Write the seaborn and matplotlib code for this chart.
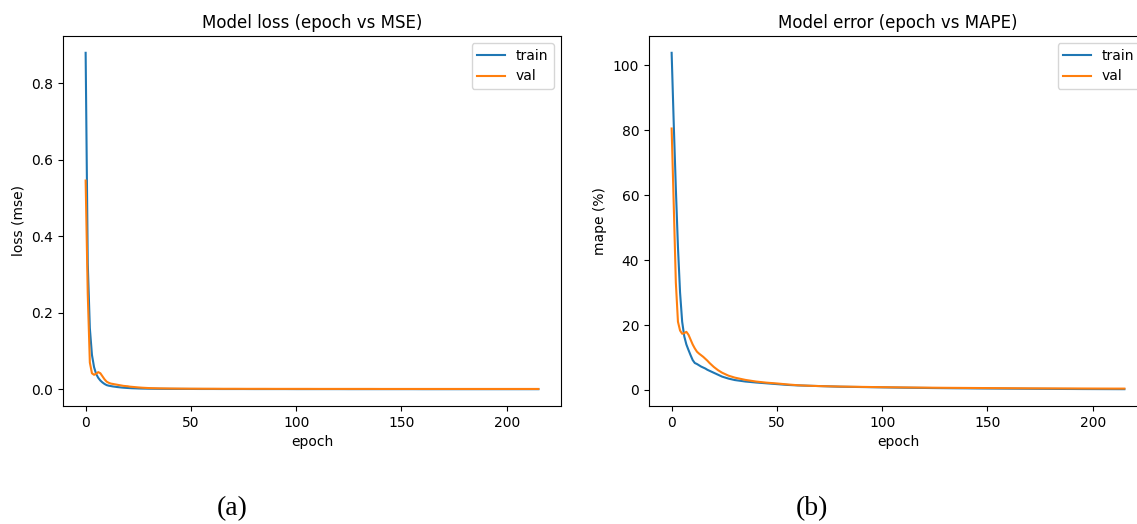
import matplotlib
matplotlib.use("Agg")
import matplotlib.pyplot as plt
import seaborn as sns
import pandas as pd

# ---- data ----
epochs = list(range(0, 31)) + list(range(35, 216, 5))

train_loss = [0.880, 0.330, 0.160, 0.090, 0.058, 0.040, 0.030, 0.023, 0.018, 0.014,
              0.011, 0.0095, 0.0085, 0.0075, 0.0068, 0.0060, 0.0054, 0.0048, 0.0043, 0.0039,
              0.0035, 0.0032, 0.0029, 0.0027, 0.0025, 0.0023, 0.0021, 0.0020, 0.0019, 0.0018,
              0.0017,
              0.0014, 0.0012, 0.0011, 0.0010, 0.0009, 0.0009, 0.0008, 0.0008, 0.0008, 0.0007,
              0.0007, 0.0007, 0.0007, 0.0006, 0.0006, 0.0006, 0.0006, 0.0006, 0.0005, 0.0005,
              0.0005, 0.0005, 0.0005, 0.0005, 0.0005, 0.0004, 0.0004, 0.0004, 0.0004, 0.0004,
              0.0004, 0.0004, 0.0004, 0.0004, 0.0004, 0.0004, 0.0004]

val_loss = [0.546, 0.250, 0.070, 0.042, 0.038, 0.041, 0.045, 0.042, 0.034, 0.026,
            0.020, 0.017, 0.015, 0.014, 0.013, 0.012, 0.011, 0.010, 0.009, 0.0085,
            0.0080, 0.0070, 0.0065, 0.0060, 0.0055, 0.0050, 0.0046, 0.0042, 0.0039, 0.0036,
            0.0033,
            0.0026, 0.0022, 0.0019, 0.0017, 0.0016, 0.0015, 0.0014, 0.0014, 0.0013, 0.0013,
            0.0013, 0.0012, 0.0012, 0.0012, 0.0012, 0.0011, 0.0011, 0.0011, 0.0011, 0.0011,
            0.0011, 0.0010, 0.0010, 0.0010, 0.0010, 0.0010, 0.0010, 0.0010, 0.0010, 0.0010,
            0.0010, 0.0010, 0.0010, 0.0010, 0.0010, 0.0010, 0.0010]

train_mape = [103.8, 82.0, 62.0, 44.0, 30.0, 21.0, 16.5, 14.0, 12.3, 10.7,
              9.2, 8.3, 8.0, 7.6, 7.2, 6.9, 6.6, 6.2, 5.9, 5.6,
              5.3, 5.0, 4.7, 4.4, 4.1, 3.9, 3.7, 3.5, 3.35, 3.2,
              3.05,
              2.6, 2.3, 2.05, 1.8, 1.55, 1.4, 1.3, 1.2, 1.1, 1.0,
              0.95, 0.9, 0.85, 0.8, 0.75, 0.7, 0.66, 0.62, 0.58, 0.55,
              0.52, 0.5, 0.47, 0.45, 0.43, 0.41, 0.39, 0.37, 0.35, 0.33,
              0.31, 0.3, 0.28, 0.27, 0.26, 0.25, 0.24]

val_mape = [80.5, 57.0, 33.0, 21.0, 18.3, 17.3, 17.5, 17.9, 17.0, 15.5,
            14.0, 12.8, 11.8, 11.2, 10.7, 10.2, 9.6, 9.0, 8.3, 7.7,
            7.1, 6.6, 6.1, 5.7, 5.3, 5.0, 4.7, 4.4, 4.2, 4.0,
            3.8,
            3.1, 2.6, 2.25, 2.0, 1.7, 1.45, 1.3, 1.2, 1.12, 1.05,
            1.0, 0.95, 0.9, 0.86, 0.82, 0.78, 0.75, 0.72, 0.69, 0.66,
            0.64, 0.62, 0.6, 0.58, 0.56, 0.54, 0.52, 0.5, 0.49, 0.48,
            0.47, 0.46, 0.45, 0.44, 0.43, 0.42, 0.42]

series_labels = ["train", "val"]
titles = ["Model loss (epoch vs MSE)", "Model error (epoch vs MAPE)"]
ylabels = ["loss (mse)", "mape (%)"]
panel_tags = ["(a)", "(b)"]

colors = ["#1f77b4", "#ff7f0e"]

fig = plt.figure(figsize=(11.37, 5.24), dpi=100)
ax1 = fig.add_axes([63 / 1137, 118 / 524, 498 / 1137, 370 / 524])
ax2 = fig.add_axes([649 / 1137, 118 / 524, 498 / 1137, 370 / 524])

for ax, (tr, va), title, ylab in zip(
        [ax1, ax2], [(train_loss, val_loss), (train_mape, val_mape)], titles, ylabels):
    df = pd.DataFrame({"epoch": epochs, "train": tr, "val": va})
    for lab, col in zip(series_labels, colors):
        sns.lineplot(data=df, x="epoch", y=lab, ax=ax, color=col, label=lab, linewidth=1.5)
    ax.set_title(title, fontsize=12)
    ax.set_xlabel("epoch", fontsize=10)
    ax.set_ylabel(ylab, fontsize=10)
    ax.legend(loc="upper right", fontsize=10)

ax1.set_yticks([0.0, 0.2, 0.4, 0.6, 0.8])
ax2.set_yticks([0, 20, 40, 60, 80, 100])
for ax in (ax1, ax2):
    ax.set_xticks([0, 50, 100, 150, 200])

fig.text(232 / 1137, 0.03, panel_tags[0], family="Liberation Serif", fontsize=20,
         ha="center", va="center")
fig.text(812 / 1137, 0.03, panel_tags[1], family="Liberation Serif", fontsize=20,
         ha="center", va="center")

fig.savefig("out.png", dpi=100)
